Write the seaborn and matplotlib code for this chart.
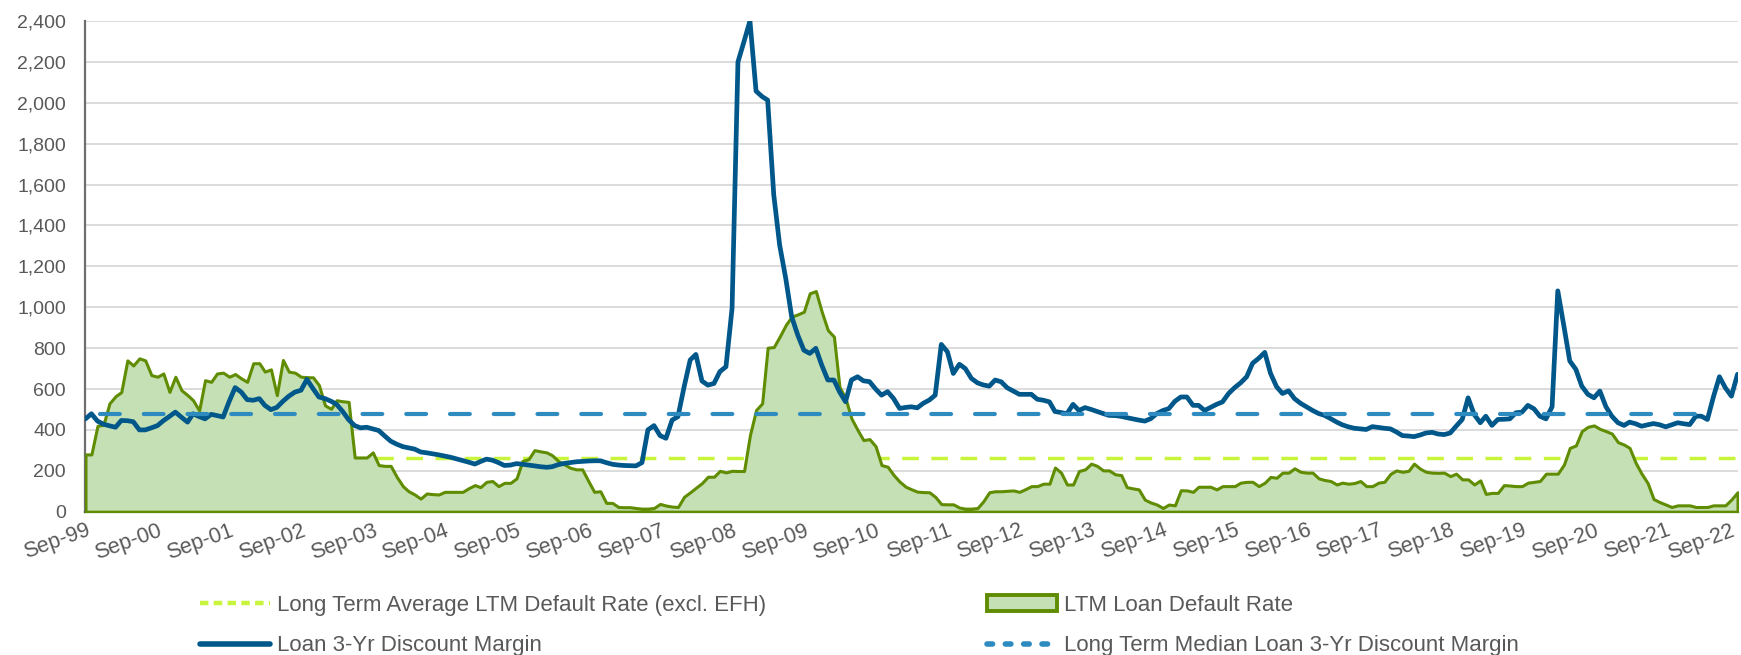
import pandas as pd
import matplotlib
matplotlib.use('Agg')
import matplotlib.pyplot as plt
import matplotlib.ticker as mticker
import matplotlib.transforms as mtransforms
import seaborn as sns
from matplotlib.lines import Line2D
from matplotlib.patches import Patch

sns.set_style('white')
plt.rcParams['font.family'] = ['Liberation Sans', 'DejaVu Sans']

# monthly, Sep-99 .. Sep-22
months = pd.date_range('1999-09-01', '2022-09-01', freq='MS')

# LTM loan default rate (bps), one row per Sep..Aug year
default_rate = [
    280, 280, 420, 425, 530, 565, 585, 740, 715, 750, 740, 668,
    660, 676, 586, 660, 594, 570, 545, 495, 643, 635, 676, 680,
    660, 673, 652, 635, 726, 726, 685, 696, 570, 742, 685, 680,
    660, 658, 657, 619, 520, 503, 545, 540, 537, 265, 265, 265,
    290, 228, 224, 224, 170, 125, 100, 84, 64, 89, 86, 84,
    97, 97, 97, 97, 115, 130, 120, 146, 150, 125, 141, 141,
    163, 248, 257, 301, 295, 290, 276, 248, 232, 215, 207, 207,
    150, 97, 100, 43, 43, 23, 22, 22, 18, 15, 15, 18,
    38, 30, 25, 23, 73, 95, 117, 140, 171, 171, 200, 192,
    200, 199, 199, 375, 497, 530, 802, 805, 856, 913, 954, 965,
    978, 1068, 1079, 978, 888, 856, 611, 554, 456, 400, 350, 355,
    320, 228, 220, 180, 147, 122, 110, 98, 96, 95, 73, 37,
    36, 36, 20, 15, 15, 18, 50, 95, 100, 100, 102, 104,
    97, 110, 125, 125, 137, 137, 216, 191, 133, 133, 199, 207,
    235, 224, 202, 202, 183, 179, 120, 114, 109, 59, 45, 35,
    18, 35, 31, 105, 104, 97, 122, 122, 122, 109, 125, 125,
    125, 142, 146, 146, 125, 142, 170, 166, 191, 191, 212, 195,
    191, 191, 163, 155, 150, 133, 142, 137, 140, 150, 125, 125,
    142, 146, 185, 202, 195, 200, 235, 210, 195, 191, 190, 191,
    174, 186, 158, 158, 133, 153, 87, 92, 92, 130, 128, 125,
    125, 142, 146, 150, 186, 186, 186, 230, 312, 324, 394, 415,
    422, 405, 394, 382, 340, 328, 312, 239, 186, 140, 62, 47,
    35, 23, 31, 31, 31, 23, 23, 23, 31, 31, 31, 60,
    95,
]

# Loan 3-yr discount margin (bps)
discount_margin = [
    454, 479, 443, 428, 420, 413, 446, 445, 440, 400, 400, 410,
    421, 445, 466, 487, 462, 438, 479, 465, 454, 476, 470, 463,
    540, 607, 585, 548, 545, 553, 520, 499, 510, 540, 565, 585,
    594, 647, 602, 561, 553, 540, 525, 490, 450, 421, 410, 413,
    405, 397, 370, 345, 330, 318, 312, 306, 292, 288, 283, 278,
    272, 266, 258, 250, 242, 233, 245, 257, 252, 240, 226, 228,
    235, 232, 228, 224, 220, 217, 220, 230, 236, 240, 244, 246,
    248, 249, 249, 240, 232, 228, 226, 225, 224, 240, 400, 421,
    372, 359, 448, 465, 610, 742, 769, 639, 619, 627, 685, 709,
    994, 2200, 2300, 2400, 2057, 2030, 2013, 1550, 1304, 1141, 954, 864,
    790, 774, 799, 717, 644, 644, 587, 538, 644, 660, 640, 636,
    600, 570, 587, 554, 505, 510, 513, 508, 530, 546, 570, 818,
    782, 676, 721, 700, 652, 630, 620, 614, 644, 635, 606, 590,
    574, 574, 574, 550, 545, 537, 490, 485, 479, 525, 495, 509,
    500, 490, 480, 471, 470, 466, 460, 454, 448, 443, 455, 480,
    495, 504, 540, 561, 561, 520, 520, 495, 510, 525, 537, 578,
    607, 630, 660, 726, 750, 779, 677, 611, 578, 591, 553, 530,
    512, 495, 480, 471, 455, 438, 425, 415, 408, 405, 402, 416,
    412, 408, 405, 390, 372, 370, 367, 375, 385, 388, 380, 377,
    385, 418, 451, 557, 475, 435, 467, 422, 451, 452, 454, 484,
    487, 520, 503, 467, 454, 513, 1080, 908, 737, 696, 614, 574,
    557, 590, 513, 467, 435, 422, 438, 430, 418, 425, 431, 425,
    415, 425, 435, 430, 426, 467, 467, 451, 560, 660, 606, 565,
    672,
]

avg_default_rate = 262   # long term average (excl. EFH)
median_dm = 480          # long term median DM

df = pd.DataFrame({'Date': months, 'DefaultRate': default_rate, 'DM': discount_margin})

text_col = '#595959'
dm_col = '#00578a'
med_col = '#2e8bc0'
dr_line = '#5f8c00'
dr_fill = '#c5e0b4'
avg_col = '#c8f53c'

fig = plt.figure(figsize=(17.41, 6.55), dpi=100)
ax = fig.add_axes([0.0491, 0.2188, 0.9489, 0.7492])

ax.yaxis.grid(True, color='#d9d9d9', lw=1.3, zorder=0)
ax.set_axisbelow(True)

ax.axhline(avg_default_rate, color=avg_col, lw=2.5, ls=(0, (4.8, 3.6)), zorder=2)
ax.fill_between(df['Date'], df['DefaultRate'], 0, facecolor=dr_fill,
                edgecolor=dr_line, lw=2.2, zorder=3)
sns.lineplot(data=df, x='Date', y='DM', color=dm_col, lw=3.4, ax=ax, zorder=4)
ax.axhline(median_dm, xmin=0.009, xmax=0.988, color=med_col, lw=3.0,
           ls=(0, (4.75, 5.75)), dash_capstyle='round', zorder=5)

ax.set_xlim(months[0], months[-1])
ax.set_ylim(0, 2400)
ax.set_yticks(range(0, 2401, 200))
ax.yaxis.set_major_formatter(mticker.StrMethodFormatter('{x:,.0f}'))

sep_ticks = months[::12]
ax.set_xticks(sep_ticks)
ax.set_xticklabels([d.strftime('%b-%y') for d in sep_ticks], rotation=20,
                   ha='right', va='top', rotation_mode='anchor')
ax.tick_params(axis='y', length=0, pad=14, labelsize=14, labelcolor=text_col)
ax.tick_params(axis='x', length=0, pad=6, labelsize=15.5, labelcolor=text_col)
ax.set_xlabel('')
ax.set_ylabel('')

# nudge the last label so it stays inside the figure
last = ax.get_xticklabels()[-1]
last.set_transform(last.get_transform() +
                   mtransforms.ScaledTranslation(-7 / 100, 0, fig.dpi_scale_trans))

for side in ['top', 'right']:
    ax.spines[side].set_visible(False)
ax.spines['left'].set_color('#6e6e6e')
ax.spines['left'].set_linewidth(1.6)
ax.spines['bottom'].set_color('#4f6228')
ax.spines['bottom'].set_linewidth(1.6)

h_avg = Line2D([], [], color=avg_col, lw=3.2, ls=(0, (1.9, 1.2)))
h_dm = Line2D([], [], color=dm_col, lw=4)
h_dr = Patch(facecolor=dr_fill, edgecolor=dr_line, lw=2.8)
h_med = Line2D([], [], color=med_col, lw=4, ls=(0, (1.0, 2.3)), dash_capstyle='round')

leg_kw = dict(loc='upper left', frameon=False, fontsize=16, handlelength=3.15,
              handletextpad=0.3, labelspacing=0.88, borderpad=0, borderaxespad=0,
              labelcolor=text_col)
fig.legend([h_avg, h_dm], ['Long Term Average LTM Default Rate (excl. EFH)',
                           'Loan 3-Yr Discount Margin'],
           bbox_to_anchor=(0.115, 0.092), **leg_kw)
fig.legend([h_dr, h_med], ['LTM Loan Default Rate',
                           'Long Term Median Loan 3-Yr Discount Margin'],
           bbox_to_anchor=(0.567, 0.092), **leg_kw)

fig.savefig('out.png', dpi=100)
